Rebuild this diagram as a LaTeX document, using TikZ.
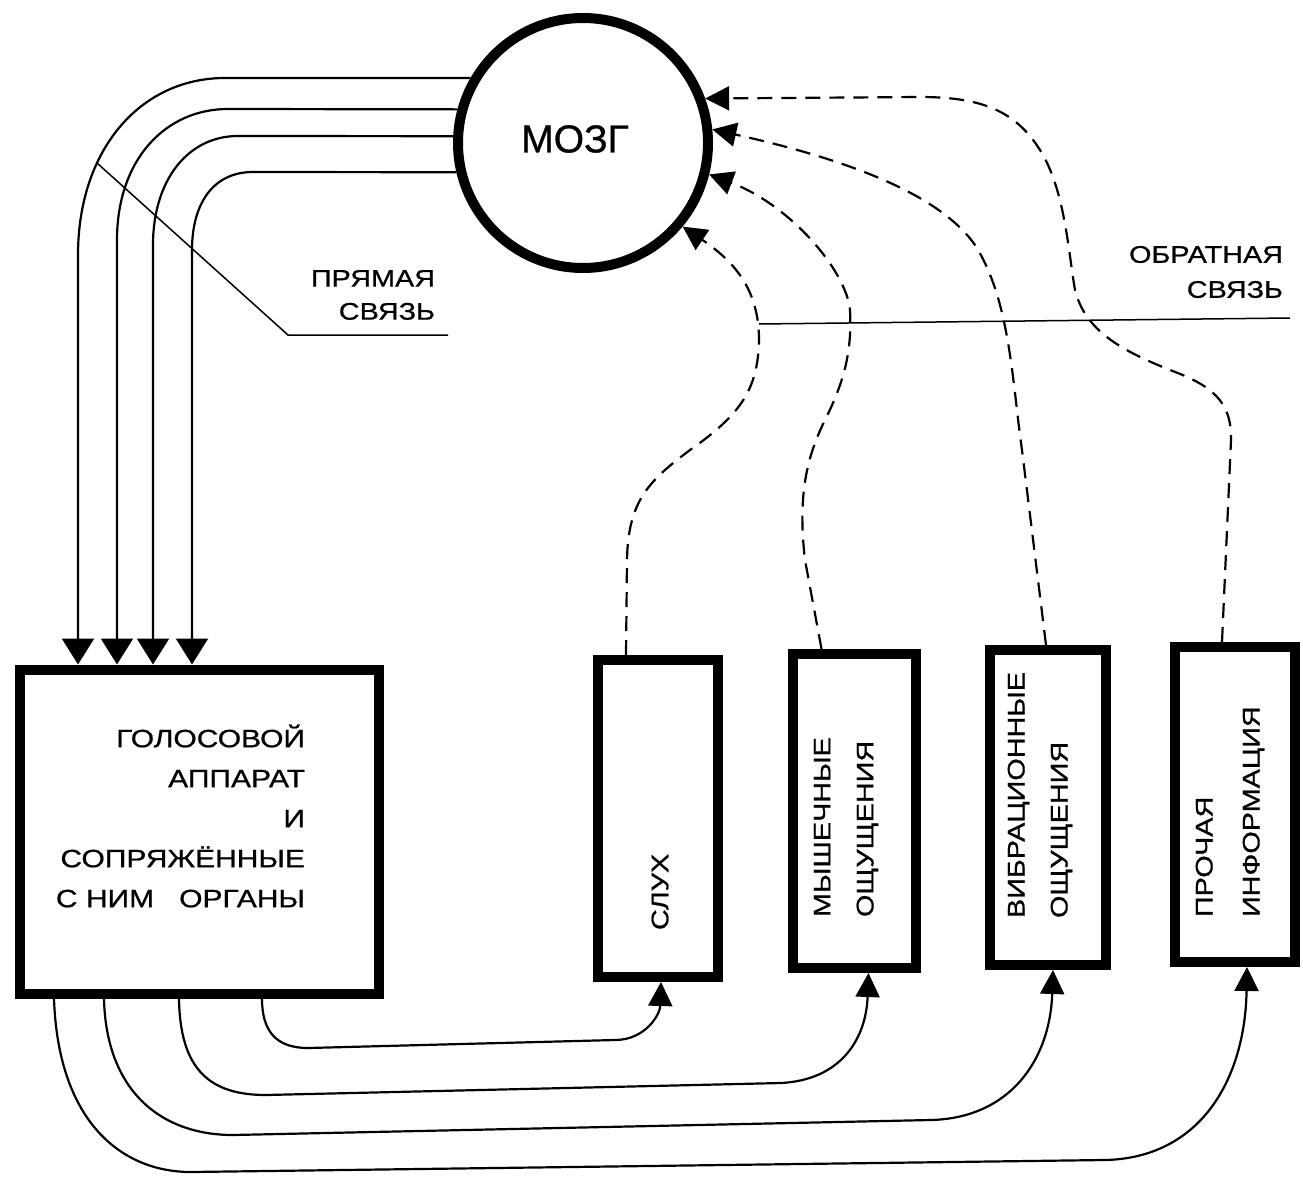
\documentclass[tikz,border=0pt]{standalone}
\usepackage{fontspec}
\setmainfont{Liberation Sans}[FakeStretch=1.2,FakeBold=0.8]
\newfontfamily\brainfont{Liberation Sans}[FakeBold=0.8]
\usetikzlibrary{arrows.meta}
\begin{document}
\begin{tikzpicture}[x=1pt,y=-1pt,
  conn/.style={line width=2.2pt},
  fb/.style={line width=2.2pt, dash pattern=on 15pt off 9pt},
  lead/.style={line width=1.5pt},
  bigtip/.style={-{Triangle[length=26pt,width=32pt]}},
  smalltip/.style={-{Triangle[length=24pt,width=24pt]}},
  blk/.style={draw, rectangle, line width=10pt, inner sep=0pt},
  lbl/.style={inner sep=0pt, outer sep=0pt, font=\fontsize{24}{33}\selectfont}]
\useasboundingbox (0,0) rectangle (1303,1180);

% brain
\node[draw, circle, line width=10pt, minimum size=250pt, inner sep=0pt] (brain) at (583,143) {};
\node[inner sep=0pt, font=\brainfont\fontsize{39}{40}\selectfont] (braintxt) at (575,139) {МОЗГ};

% main box
\node[blk, minimum width=359pt, minimum height=324pt] (voice) at (199,831.5) {};
\node[lbl, anchor=east, align=right, font=\fontsize{25}{40}\selectfont] (voicetxt) at (305,816)
  {ГОЛОСОВОЙ\\АППАРАТ\\И\\СОПРЯЖЁННЫЕ\\С НИМ\ \ \ ОРГАНЫ};

% sensor boxes
\node[blk, minimum width=120pt, minimum height=317pt] (slukh) at (658,818.5) {};
\node[blk, minimum width=123pt, minimum height=314pt] (mysh) at (854.5,811) {};
\node[blk, minimum width=116pt, minimum height=315pt] (vib) at (1048,807.5) {};
\node[blk, minimum width=120pt, minimum height=315pt] (proch) at (1235,804.5) {};

\node[lbl, rotate=90, anchor=west] (slukhtxt) at (660,930) {СЛУХ};
\node[lbl, rotate=90, anchor=west, align=left, font=\fontsize{24}{43}\selectfont] (myshtxt) at (846,917) {МЫШЕЧНЫЕ\\ОЩУЩЕНИЯ};
\node[lbl, rotate=90, anchor=west, align=left, font=\fontsize{24}{43}\selectfont] (vibtxt) at (1040,918) {ВИБРАЦИОННЫЕ\\ОЩУЩЕНИЯ};
\node[lbl, rotate=90, anchor=west, align=left, font=\fontsize{24}{47}\selectfont] (prochtxt) at (1230,917) {ПРОЧАЯ\\ИНФОРМАЦИЯ};

% labels
\node[lbl, anchor=east, align=right] (direct) at (435,295) {ПРЯМАЯ\\СВЯЗЬ};
\node[lbl, anchor=east, align=right, font=\fontsize{24}{35}\selectfont] (feedback) at (1283,272) {ОБРАТНАЯ\\СВЯЗЬ};

% direct connections brain -> voice
\draw[conn, bigtip] (brain.150) -- (225,78) .. controls (140,78) and (78,150) .. (78,255) -- ([xshift=-121pt]voice.north);
\draw[conn, bigtip] (brain.165) -- (228,109) .. controls (165,109) and (117,160) .. (117,240) -- ([xshift=-82pt]voice.north);
\draw[conn, bigtip] (brain.177) -- (238,136) .. controls (188,136) and (153,180) .. (153,245) -- ([xshift=-46pt]voice.north);
\draw[conn, bigtip] (brain.193) -- (253,172) .. controls (212,172) and (192,205) .. (192,250) -- ([xshift=-7pt]voice.north);

% leader for direct connection
\coordinate (dl) at (97,163);
\draw[lead] (dl) -- (288,335) -- (448,335);

% feedback dashed lines
\draw[fb, smalltip] ([xshift=-32pt]slukh.north) -- (627,560) .. controls (628,500) and (650,480) .. (690,450)
   .. controls (740,415) and (758,390) .. (759,340) .. controls (759,290) and (735,262) .. (brain.-40);
\draw[fb, smalltip] ([xshift=-33pt]mysh.north) -- (805,560) .. controls (798,500) and (805,460) .. (825,420)
   .. controls (845,380) and (852,350) .. (850,310) .. controls (846,270) and (790,205) .. (brain.-14);
\draw[fb, smalltip] ([xshift=-2pt]vib.north) -- (1022,450) .. controls (1012,380) and (1010,300) .. (975,245)
   .. controls (940,195) and (850,160) .. (brain.6);
\draw[fb, smalltip] ([xshift=-13pt]proch.north) -- (1231,440) .. controls (1232,400) and (1210,385) .. (1170,370)
   .. controls (1120,350) and (1085,330) .. (1075,290) .. controls (1068,250) and (1065,190) .. (1040,150)
   .. controls (1015,110) and (980,97) .. (920,97) -- (brain.20);

% leader for feedback
\coordinate (fl) at (759,324);
\draw[lead] (1290,318) -- (fl);

% voice -> sensors
\draw[conn, smalltip] ([xshift=63pt]voice.south) .. controls (262,1030) and (275,1048) .. (308,1048) -- (615,1040)
   .. controls (645,1040) and (660,1015) .. ([xshift=3pt]slukh.south);
\draw[conn, smalltip] ([xshift=-20pt]voice.south) .. controls (180,1070) and (210,1095) .. (266,1095) -- (781,1083)
   .. controls (840,1080) and (866,1040) .. ([xshift=14pt]mysh.south);
\draw[conn, smalltip] ([xshift=-95pt]voice.south) .. controls (106,1090) and (160,1135) .. (233,1135) -- (931,1120)
   .. controls (1010,1118) and (1050,1060) .. ([xshift=5pt]vib.south);
\draw[conn, smalltip] ([xshift=-145pt]voice.south) .. controls (58,1120) and (120,1172) .. (191,1172) -- (1105,1160)
   .. controls (1200,1158) and (1245,1080) .. ([xshift=12pt]proch.south);
\end{tikzpicture}
\end{document}
